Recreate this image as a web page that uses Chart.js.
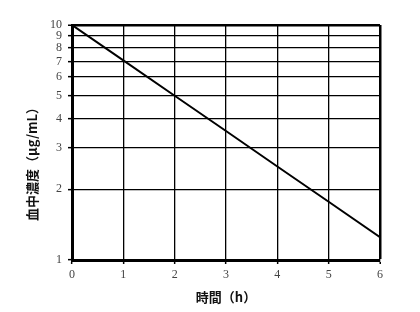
<!DOCTYPE html>
<html>
<head>
<meta charset="utf-8">
<script src="https://cdn.jsdelivr.net/npm/chart.js@4"></script>
<style>
  html, body { margin: 0; padding: 0; background: #fff; }
  #wrap { width: 420px; height: 312px; }
</style>
</head>
<body>
<div id="wrap"><canvas id="concChart"></canvas></div>
<script>
'use strict'
// 時間 (h) と 血中濃度 (μg/mL)
var hours = [0, 1, 2, 3, 4, 5, 6];
var conc = [10, 7.07, 5, 3.54, 2.5, 1.77, 1.25];
var yTicks = [1, 2, 3, 4, 5, 6, 7, 8, 9, 10];
var xTitle = '時間（h）';
var yTitle = '血中濃度（μg/mL）';

var titlePlugin = {
    id: 'axisTitles',
    afterDraw: function(chart) {
        var ctx = chart.ctx;
        var area = chart.chartArea;
        ctx.save();
        ctx.fillStyle = '#111';
        ctx.font = 'bold 13px "Noto Sans CJK JP"';
        ctx.textAlign = 'center';
        ctx.textBaseline = 'middle';
        ctx.fillText(xTitle, (area.left + area.right) / 2, 297);
        ctx.translate(32, area.bottom - 99);
        ctx.rotate(-Math.PI / 2);
        ctx.fillText(yTitle, 0, 0);
        ctx.restore();
    }
};

var ctx = document.getElementById('concChart');
var concChart = new Chart(ctx, {
    type: 'line',
    data: {
        datasets: [{
            data: hours.map(function(h, i) { return { x: h, y: conc[i] }; }),
            borderColor: '#000',
            borderWidth: 2,
            pointRadius: 0,
            tension: 0
        }]
    },
    options: {
        responsive: true,
        maintainAspectRatio: false,
        animation: false,
        layout: { padding: { left: 0, top: 25, right: 40, bottom: 0 } },
        plugins: {
            legend: { display: false },
            tooltip: { enabled: false }
        },
        scales: {
            x: {
                type: 'linear',
                min: 0,
                max: 6,
                afterFit: function(scale) { scale.height = 52; },
                ticks: {
                    stepSize: 1,
                    color: '#444',
                    padding: 4,
                    font: { family: '"Liberation Serif"', size: 12 }
                },
                grid: {
                    color: '#000',
                    lineWidth: function(c) { return c.tick && c.tick.value === 6 ? 2.5 : 1.3; },
                    tickLength: 4,
                    tickColor: '#000',
                    tickWidth: 1.5
                },
                border: { color: '#000', width: 3 }
            },
            y: {
                type: 'logarithmic',
                min: 1,
                max: 10,
                afterFit: function(scale) { scale.width = 72; },
                afterBuildTicks: function(scale) {
                    scale.ticks = yTicks.map(function(v) { return { value: v }; });
                },
                ticks: {
                    color: '#444',
                    padding: 6,
                    font: { family: '"Liberation Serif"', size: 12 },
                    callback: function(v) { return String(v); }
                },
                grid: {
                    color: '#000',
                    lineWidth: function(c) { return c.tick && c.tick.value === 10 ? 2.5 : 1.3; },
                    tickLength: 4,
                    tickColor: '#000',
                    tickWidth: 1.5
                },
                border: { color: '#000', width: 3 }
            }
        }
    },
    plugins: [titlePlugin]
});
</script>
</body>
</html>
